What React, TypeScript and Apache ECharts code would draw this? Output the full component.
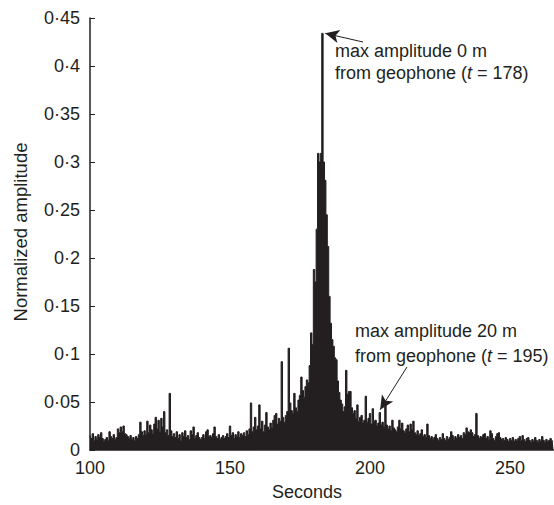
import React, { useEffect, useRef } from 'react';
import * as echarts from 'echarts';

// Regularly sampled signal: one value every 0.5 s starting at t = 100 s
const startTime = 100;
const sampleStep = 0.5;

const amplitude: number[] = [
  // 100 - 109.5
  0.015, 0.012, 0.017, 0.010, 0.014, 0.011, 0.016, 0.013, 0.018, 0.012, 0.009, 0.011, 0.013, 0.010, 0.019, 0.014, 0.012, 0.016, 0.011, 0.013,
  // 110 - 119.5
  0.022, 0.018, 0.024, 0.019, 0.025, 0.017, 0.016, 0.014, 0.012, 0.015, 0.011, 0.013, 0.010, 0.014, 0.012, 0.016, 0.029, 0.019, 0.015, 0.020,
  // 120 - 129.5
  0.016, 0.030, 0.018, 0.026, 0.021, 0.017, 0.027, 0.034, 0.022, 0.031, 0.019, 0.033, 0.024, 0.040, 0.018, 0.021, 0.015, 0.059, 0.020, 0.014,
  // 130 - 139.5
  0.017, 0.013, 0.019, 0.012, 0.016, 0.010, 0.018, 0.014, 0.020, 0.013, 0.015, 0.011, 0.020, 0.016, 0.024, 0.012, 0.015, 0.018, 0.013, 0.011,
  // 140 - 149.5
  0.013, 0.016, 0.012, 0.019, 0.021, 0.014, 0.015, 0.013, 0.017, 0.024, 0.014, 0.012, 0.016, 0.011, 0.013, 0.015, 0.012, 0.014, 0.017, 0.013,
  // 150 - 159.5
  0.025, 0.015, 0.018, 0.012, 0.016, 0.014, 0.019, 0.013, 0.017, 0.015, 0.018, 0.014, 0.020, 0.016, 0.022, 0.049, 0.019, 0.024, 0.034, 0.021,
  // 160 - 169.5
  0.025, 0.047, 0.022, 0.030, 0.019, 0.026, 0.039, 0.024, 0.021, 0.028, 0.023, 0.031, 0.036, 0.038, 0.027, 0.033, 0.030, 0.092, 0.034, 0.029,
  // 170 - 179.5
  0.036, 0.040, 0.106, 0.049, 0.041, 0.038, 0.059, 0.044, 0.040, 0.052, 0.057, 0.076, 0.062, 0.055, 0.066, 0.073, 0.070, 0.088, 0.122, 0.110,
  // 180 - 189.5
  0.188, 0.175, 0.230, 0.309, 0.300, 0.309, 0.434, 0.300, 0.281, 0.245, 0.212, 0.160, 0.132, 0.115, 0.108, 0.096, 0.094, 0.072, 0.060, 0.052,
  // 190 - 199.5
  0.048, 0.040, 0.045, 0.083, 0.058, 0.061, 0.061, 0.044, 0.038, 0.041, 0.033, 0.047, 0.030, 0.034, 0.036, 0.028, 0.031, 0.056, 0.029, 0.033,
  // 200 - 209.5
  0.038, 0.027, 0.043, 0.030, 0.031, 0.025, 0.028, 0.039, 0.026, 0.029, 0.024, 0.047, 0.026, 0.022, 0.025, 0.020, 0.031, 0.023, 0.021, 0.019,
  // 210 - 219.5
  0.024, 0.031, 0.022, 0.028, 0.020, 0.018, 0.022, 0.026, 0.019, 0.027, 0.021, 0.030, 0.018, 0.016, 0.020, 0.015, 0.017, 0.021, 0.014, 0.016,
  // 220 - 229.5
  0.013, 0.027, 0.015, 0.012, 0.014, 0.011, 0.013, 0.016, 0.012, 0.010, 0.013, 0.011, 0.017, 0.012, 0.010, 0.014, 0.011, 0.013, 0.019, 0.015,
  // 230 - 239.5
  0.011, 0.014, 0.012, 0.016, 0.013, 0.015, 0.012, 0.018, 0.016, 0.023, 0.019, 0.018, 0.021, 0.018, 0.014, 0.016, 0.038, 0.015, 0.012, 0.014,
  // 240 - 249.5
  0.013, 0.016, 0.017, 0.012, 0.014, 0.011, 0.020, 0.017, 0.012, 0.010, 0.014, 0.017, 0.018, 0.013, 0.011, 0.012, 0.010, 0.013, 0.011, 0.009,
  // 250 - 259.5
  0.012, 0.010, 0.013, 0.009, 0.011, 0.010, 0.012, 0.014, 0.010, 0.015, 0.011, 0.009, 0.012, 0.013, 0.010, 0.008, 0.011, 0.009, 0.013, 0.010,
  // 260 - 265.5
  0.008, 0.011, 0.009, 0.014, 0.010, 0.008, 0.011, 0.009, 0.010, 0.012, 0.009, 0.010,
];

const xMin = 100;
const xMax = 265.7;
const xInterval = 50;
const yMin = 0;
const yMax = 0.45;
const yInterval = 0.05;

// annotation arrows: [tail, tip] in data coordinates (seconds, amplitude)
const arrow0m: [number, number][] = [[197.5, 0.425], [184.0, 0.434]];
const arrow20m: [number, number][] = [[213.2, 0.0865], [203.6, 0.042]];
const label0m = ['max amplitude 0 m', 'from geophone ({i|t} = 178)'];
const label20m = ['max amplitude 20 m', 'from geophone ({i|t} = 195)'];

const INK = '#231f20';
const FONT = '"Liberation Sans", Arial, Helvetica, sans-serif';
const FS = 18;
const FS_NOTE = 18;

export default function App() {
  const ref = useRef<HTMLDivElement>(null);
  useEffect(() => {
    if (!ref.current) return;
    const chart = echarts.init(ref.current, undefined, { renderer: 'svg' });
    const seriesData = amplitude.map((v, i) => [startTime + i * sampleStep, v]);
    const textStyle = (text: string, x: number, y: number) => ({
      type: 'text',
      x,
      y,
      style: {
        text,
        fill: INK,
        fontFamily: FONT,
        fontSize: FS_NOTE,
        verticalAlign: 'middle',
        align: 'left',
        rich: { i: { fontStyle: 'italic', fontFamily: FONT, fontSize: FS_NOTE, fill: INK } },
      },
    });
    chart.setOption({
      animation: false,
      grid: { left: 90, right: 0, top: 18, bottom: 55, containLabel: false, outerBoundsMode: 'none' },
      xAxis: {
        type: 'value',
        min: xMin,
        max: xMax,
        interval: xInterval,
        axisLine: { show: true, lineStyle: { color: INK, width: 1.5 } },
        axisTick: { show: true, inside: true, length: 5, lineStyle: { color: INK } },
        splitLine: { show: false },
        axisLabel: {
          color: INK,
          fontFamily: FONT,
          fontSize: FS,
          margin: 9,
          showMaxLabel: false,
          formatter: (v: number) => String(v),
        },
      },
      yAxis: {
        type: 'value',
        min: yMin,
        max: yMax,
        interval: yInterval,
        axisLine: { show: true, lineStyle: { color: INK, width: 1.5 } },
        axisTick: { show: true, inside: true, length: 5, lineStyle: { color: INK } },
        splitLine: { show: false },
        axisLabel: {
          color: INK,
          fontFamily: FONT,
          fontSize: FS,
          margin: 10,
          formatter: (v: number) =>
            v === 0 ? '0' : v.toFixed(2).replace(/0+$/, '').replace('.', '\u00b7'),
        },
      },
      series: [
        {
          type: 'line',
          data: seriesData,
          symbol: 'none',
          step: 'middle',
          lineStyle: { color: INK, width: 1 },
          areaStyle: { color: INK, opacity: 1 },
          markLine: {
            silent: true,
            symbol: ['none', 'arrow'],
            symbolSize: [10, 14],
            label: { show: false },
            lineStyle: { color: INK, width: 1, type: 'solid' },
            data: [
              [{ coord: arrow0m[0] }, { coord: arrow0m[1] }],
              [{ coord: arrow20m[0] }, { coord: arrow20m[1] }],
            ],
          },
        },
      ],
      graphic: [
        textStyle(label0m[0], 335, 51),
        textStyle(label0m[1], 335, 73),
        textStyle(label20m[0], 355, 331),
        textStyle(label20m[1], 355, 356),
        {
          type: 'text',
          x: 307,
          y: 492,
          style: {
            text: 'Seconds',
            fill: INK,
            fontFamily: FONT,
            fontSize: FS,
            align: 'center',
            verticalAlign: 'middle',
          },
        },
        {
          type: 'text',
          x: 20,
          y: 232,
          rotation: Math.PI / 2,
          style: {
            text: 'Normalized amplitude',
            fill: INK,
            fontFamily: FONT,
            fontSize: 18.5,
            align: 'center',
            verticalAlign: 'middle',
          },
        },
      ],
    });
    return () => chart.dispose();
  }, []);
  return (
    <div
      ref={ref}
      style={{ position: 'absolute', left: 0, top: 0, width: 554, height: 505, background: '#fff' }}
    />
  );
}
